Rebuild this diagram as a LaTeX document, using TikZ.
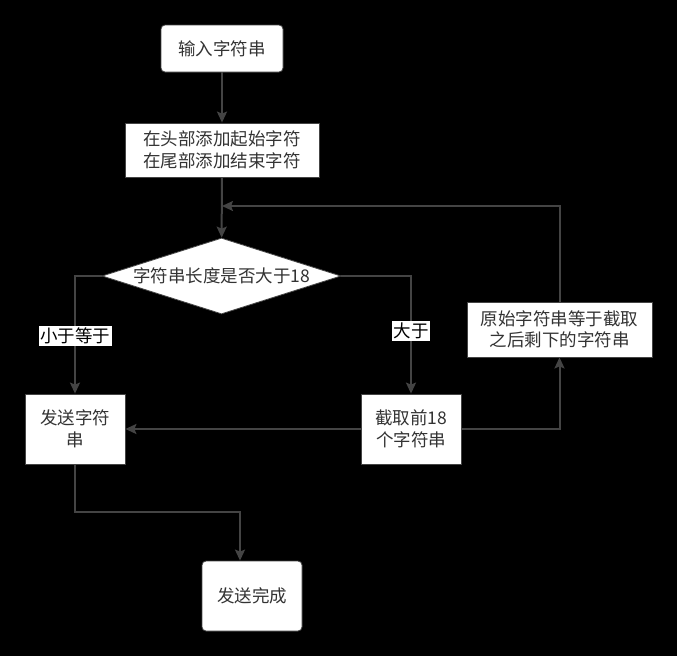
\documentclass[tikz,border=0pt]{standalone}
\usepackage{fontspec}
\setmainfont{Noto Sans CJK SC}
\usetikzlibrary{arrows.meta,shapes.geometric}
\definecolor{linec}{HTML}{444444}
\definecolor{txt}{HTML}{333333}
\begin{document}
\begin{tikzpicture}[x=1pt,y=-1pt,
  box/.style={draw=linec,line width=0.8pt,fill=white,text=txt,align=center,inner sep=2pt,
    font=\fontsize{17.5}{21.6}\selectfont},
  rbox/.style={box,rounded corners=4pt},
  conn/.style={draw=linec,line width=2pt,-{Stealth[length=11pt,width=10pt,inset=2pt]}},
  lab/.style={fill=white,text=black,inner sep=1.5pt,font=\fontsize{17.5}{21.6}\selectfont}]
\useasboundingbox (0,0) rectangle (677,656);
\fill[black] (0,0) rectangle (677,656);

\node[rbox,minimum width=122pt,minimum height=47pt] (in) at (222,48.5) {输入字符串};
\node[box,minimum width=194pt,minimum height=54pt] (add) at (222,150) {在头部添加起始字符\\在尾部添加结束字符};
\node[diamond,draw=linec,line width=0.8pt,fill=white,minimum width=239pt,minimum height=76pt,inner sep=0pt] (dec) at (221.5,276) {};
\node[text=txt,font=\fontsize{17.5}{21.6}\selectfont] (dect) at (dec) {字符串长度是否大于18};
\node[box,minimum width=100pt,minimum height=70pt] (send) at (75,429) {发送字符\\串};
\node[box,minimum width=100pt,minimum height=70pt] (cut) at (411,429) {截取前18\\个字符串};
\node[box,minimum width=185pt,minimum height=55pt] (rest) at (559.5,329.5) {原始字符串等于截取\\之后剩下的字符串};
\node[rbox,minimum width=100pt,minimum height=70pt] (done) at (252,596) {发送完成};

\coordinate (back) at (222,206);
\coordinate (fin) at (240,512);

\draw[conn] (in) -- (add);
\draw[conn] (add) -- (dec);
\draw[conn] (dec.west) -| (send.north);
\draw[conn] (dec.east) -| (cut.north);
\draw[conn] (cut.west) -- (send.east);
\draw[conn] (cut.east) -| (rest.south);
\draw[conn] (rest.north) |- (back);
\draw[conn] (send.south) |- (fin) -- (fin |- done.north);

\node[lab] (l1) at (75,336) {小于等于};
\node[lab] (l2) at (411,331) {大于};
\end{tikzpicture}
\end{document}
